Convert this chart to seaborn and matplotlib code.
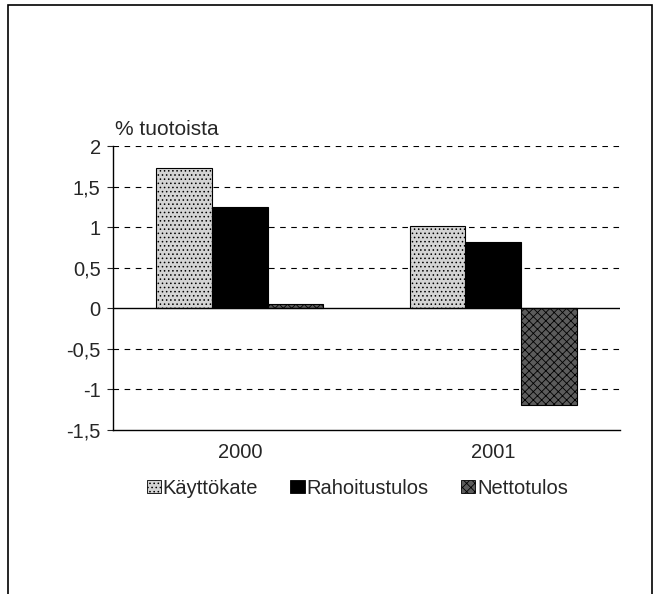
import pandas as pd
import matplotlib.pyplot as plt
import seaborn as sns
from matplotlib.patches import Rectangle, Patch

# Data
years = ['2000', '2001']
series = ['Käyttökate', 'Rahoitustulos', 'Nettotulos']
kayttokate = [1.73, 1.01]
rahoitustulos = [1.25, 0.82]
nettotulos = [0.05, -1.19]
yticks = [2, 1.5, 1, 0.5, 0, -0.5, -1, -1.5]
ytick_labels = ['2', '1,5', '1', '0,5', '0', '-0,5', '-1', '-1,5']

df = pd.DataFrame({
    'year': years * 3,
    'series': [s for s in series for _ in years],
    'value': kayttokate + rahoitustulos + nettotulos,
})

colors = {'Käyttökate': '#d4d4d4', 'Rahoitustulos': '#000000', 'Nettotulos': '#5c5c5c'}
hatches = {'Käyttökate': '....', 'Rahoitustulos': '', 'Nettotulos': 'xxxx'}

sns.set_style('white')
plt.rcParams['font.family'] = ['Liberation Sans', 'DejaVu Sans']
plt.rcParams['hatch.color'] = '#9a9a9a'
plt.rcParams['hatch.linewidth'] = 0.6

fig = plt.figure(figsize=(6.58, 5.94), dpi=100)
ax = fig.add_axes([0.172, 0.276, 0.77, 0.478])

sns.barplot(data=df, x='year', y='value', hue='series', hue_order=series,
            palette=colors, width=0.66, saturation=1, legend=False,
            edgecolor='black', linewidth=0.8, ax=ax)

# texture on bars
for cont, name in zip(ax.containers, series):
    for bar in cont:
        bar.set_hatch(hatches[name])

ax.set_ylim(-1.5, 2)
ax.set_xlim(-0.5, 1.5)
ax.set_yticks(yticks)
ax.set_yticklabels(ytick_labels, fontsize=14.5)
ax.tick_params(axis='x', labelsize=14.5, direction='in', length=4, pad=9)
ax.tick_params(axis='y', direction='out', length=4, left=True, pad=5)
ax.set_xlabel('')
ax.set_ylabel('')

for v in yticks:
    if v not in (0, -1.5):
        ax.axhline(v, color='black', linestyle=(0, (5, 5)), linewidth=0.8, zorder=0)
ax.axhline(0, color='black', linewidth=1, zorder=3)

sns.despine(ax=ax, top=True, right=True)
for s in ['left', 'bottom']:
    ax.spines[s].set_color('black')
    ax.spines[s].set_linewidth(1)

ax.text(0.004, 1.025, '% tuotoista', transform=ax.transAxes, fontsize=15,
        ha='left', va='bottom')

handles = [Patch(facecolor=colors[s], edgecolor='black', hatch=hatches[s], linewidth=0.6)
           for s in series]
fig.legend(handles, series, loc='center', bbox_to_anchor=(0.543, 0.178), ncol=3,
           frameon=False, fontsize=14.5, handlelength=0.7, handleheight=0.6,
           handletextpad=0.1, columnspacing=1.6)

# outer frame
fig.patches.append(Rectangle((0.012, -0.01), 0.979, 1.002, transform=fig.transFigure,
                             fill=False, edgecolor='black', linewidth=1.2))

plt.savefig('out.png', dpi=100)
plt.close()
